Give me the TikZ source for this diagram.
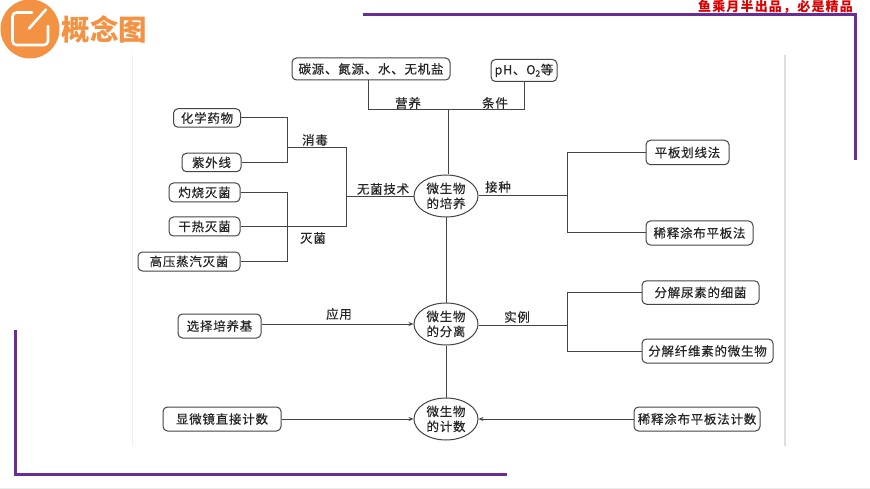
\documentclass[tikz,border=0pt]{standalone}
\usepackage{fontspec}
\usetikzlibrary{shapes.geometric,arrows.meta}
\setmainfont{Noto Sans CJK SC}
\newfontfamily\cjk[LetterSpace=6,FakeBold=0.35]{Noto Sans CJK SC}
\newfontfamily\cjkred[LetterSpace=9]{Noto Sans CJK SC}
\definecolor{framepurple}{HTML}{6A2C95}
\definecolor{logoorange}{HTML}{F39243}
\definecolor{linegray}{HTML}{444444}
\tikzset{
  x=1pt,y=-1pt,
  box/.style={draw=linegray,line width=1pt,rounded corners=4.5pt,inner sep=0pt,anchor=center,font=\fontsize{12.5}{14}\selectfont\cjk,text=black!85,fill=white},
  oval/.style={draw=linegray,line width=1pt,ellipse,minimum width=64pt,minimum height=42pt,inner sep=0pt,align=center,font=\fontsize{12.5}{15}\selectfont\cjk,text=black!85,fill=white},
  lab/.style={inner sep=0pt,font=\fontsize{12.5}{14}\selectfont\cjk,text=black!85},
  wire/.style={draw=linegray,line width=1pt},
  arrowwire/.style={wire,-{Stealth[length=5pt,width=4pt]}},
  framebar/.style={draw=framepurple,line width=3pt},
  edgeline/.style={draw=black!13,line width=1.5pt},
}
\begin{document}
\begin{tikzpicture}
\useasboundingbox (0,0) rectangle (870,489);
\fill[white] (0,0) rectangle (870,489);
% image border and slide frame
\draw[edgeline] (785,55) -- (785,446);
\draw[draw=black!6,line width=.8pt] (132,55) -- (132,446);
\draw[draw=black!8,line width=1pt] (0,488) -- (870,488);
\draw[framebar] (363,15) -- (855.5,15) -- (855.5,160);
\draw[framebar] (15,330) -- (15,474) -- (507,474);
% logo
\fill[logoorange] (30,29) circle[radius=29.5];
\draw[white,line width=2.6pt,rounded corners=4pt,line cap=round] (32,12.5) -- (12.5,12.5) -- (12.5,45) -- (48,45) -- (48,26);
\draw[white,line width=2.6pt,line cap=round] (29,28.5) -- (46,9.5);
\node[inner sep=0pt,text=logoorange,font=\fontsize{28.5}{30}\selectfont\bfseries] (logotext) at (104.5,29.5) {概念图};
\node[inner sep=0pt,text=red!85!black,font=\fontsize{13}{14}\selectfont\cjkred\bfseries] (brand) at (775.5,6.5) {鱼乘月半出品，必是精品};
% nodes
\node[box,minimum width=158pt,minimum height=22pt] (carbon) at (371,69) {碳源、氮源、水、无机盐};
\node[box,minimum width=66pt,minimum height=22pt] (ph) at (524,70.5) {pH、O\textsubscript{2}等};
\node[box,minimum width=67pt,minimum height=18.5pt] (chem) at (207,118) {化学药物};
\node[box,minimum width=59pt,minimum height=18.5pt] (uv) at (211.5,162.5) {紫外线};
\node[box,minimum width=71pt,minimum height=19pt] (burn) at (204.5,192.5) {灼烧灭菌};
\node[box,minimum width=71pt,minimum height=19pt] (dry) at (204.5,226.5) {干热灭菌};
\node[box,minimum width=102pt,minimum height=19pt] (steam) at (189,261.5) {高压蒸汽灭菌};
\node[box,minimum width=83pt,minimum height=24pt] (select) at (219.5,326) {选择培养基};
\node[box,minimum width=118pt,minimum height=24pt] (micro) at (222,419) {显微镜直接计数};
\node[oval] (culture) at (446,196) {微生物\\的培养};
\node[oval] (isolate) at (446,324) {微生物\\的分离};
\node[oval] (count) at (446,419) {微生物\\的计数};
\node[box,minimum width=83pt,minimum height=24.5pt] (streak) at (687.5,152.5) {平板划线法};
\node[box,minimum width=107pt,minimum height=24pt] (spread) at (699.5,233) {稀释涂布平板法};
\node[box,minimum width=117pt,minimum height=23.5pt] (urea) at (700.5,292.5) {分解尿素的细菌};
\node[box,minimum width=131pt,minimum height=24pt] (cellu) at (707.5,351) {分解纤维素的微生物};
\node[box,minimum width=126pt,minimum height=24pt] (spreadcount) at (697,419) {稀释涂布平板法计数};
% junction coordinates
\coordinate (top) at (448,110);
\coordinate (dis) at (287,148);
\coordinate (ster) at (287,226.5);
\coordinate (tech) at (346,197);
\coordinate (inoc) at (567.5,196);
\coordinate (ex) at (567,325);
% connectors
\draw[wire] (carbon.south -| 368,0) -- (368,110) -- (524,110) -- (ph.south);
\draw[wire] (top) -- (top |- culture.north);
\draw[wire] (chem.east) -- (287,118) -- (287,162.5) -- (uv.east);
\draw[wire] (burn.east) -- (287,192.5) -- (287,261.5) -- (steam.east);
\draw[wire] (dry.east) -- (ster);
\draw[wire] (dis) -- (346,148) -- (346,226.5) -- (ster);
\draw[wire] (tech) -- (culture.west |- tech);
\draw[wire] (culture.east) -- (inoc);
\draw[wire] (streak.west) -- (567.5,152.5) -- (567.5,233) -- (spread.west);
\draw[wire] (culture.south) -- (isolate.north);
\draw[wire] (isolate.south) -- (count.north);
\draw[wire] (isolate.east |- ex) -- (ex);
\draw[wire] (urea.west) -- (567,292.5) -- (567,351) -- (cellu.west);
\draw[arrowwire] (select.east |- isolate.west) -- (isolate.west);
\draw[arrowwire] (micro.east) -- (count.west);
\draw[arrowwire] (spreadcount.west) -- (count.east);
% labels
\node[lab] (yingyang) at (408,103) {营养};
\node[lab] (tiaojian) at (495,103) {条件};
\node[lab] (xiaodu) at (315,140) {消毒};
\node[lab] (miejun) at (313,238) {灭菌};
\node[lab] (wujun) at (383,189) {无菌技术};
\node[lab] (jiezhong) at (498,187) {接种};
\node[lab] (shili) at (517,317) {实例};
\node[lab] (yingyong) at (339,314) {应用};
\end{tikzpicture}
\end{document}
